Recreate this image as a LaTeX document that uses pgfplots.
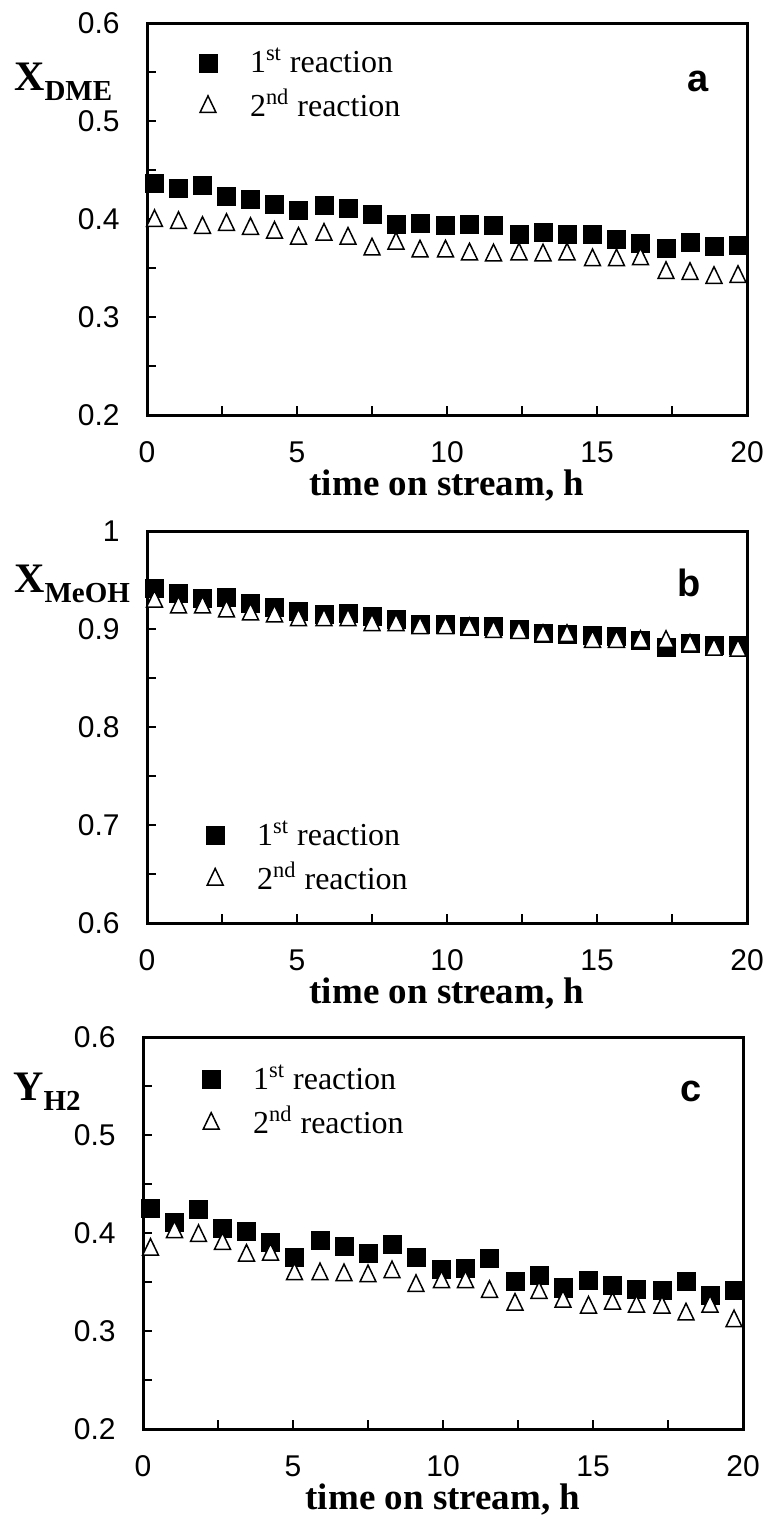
\documentclass[border=0pt]{standalone}
\usepackage{pgfplots}
\usepackage{pgfplotstable}
\pgfplotsset{compat=1.18}
\usepackage{fontspec}
\setmainfont{Liberation Sans}
\newfontfamily\tnr{Liberation Serif}

\pgfplotstableread{
t     sq     tri
0.25  0.436  0.398
1.05  0.431  0.396
1.85  0.434  0.391
2.65  0.423  0.394
3.45  0.420  0.390
4.25  0.415  0.386
5.05  0.409  0.380
5.90  0.414  0.384
6.70  0.411  0.380
7.50  0.405  0.369
8.30  0.394  0.375
9.10  0.396  0.367
9.95  0.393  0.367
10.75 0.395  0.364
11.55 0.393  0.363
12.40 0.384  0.364
13.20 0.386  0.363
14.00 0.384  0.364
14.85 0.384  0.358
15.65 0.379  0.358
16.45 0.375  0.359
17.30 0.370  0.345
18.10 0.376  0.344
18.90 0.372  0.340
19.70 0.373  0.341
}\dataA

\pgfplotstableread{
t     sq     tri
0.25  0.941  0.928
1.05  0.936  0.922
1.85  0.931  0.922
2.65  0.932  0.918
3.45  0.926  0.915
4.25  0.922  0.913
5.05  0.918  0.909
5.90  0.915  0.909
6.70  0.916  0.909
7.50  0.913  0.904
8.30  0.910  0.904
9.10  0.905  0.901
9.95  0.905  0.901
10.75 0.903  0.900
11.55 0.903  0.897
12.40 0.900  0.896
13.20 0.896  0.893
14.00 0.894  0.893
14.85 0.893  0.887
15.65 0.892  0.887
16.45 0.888  0.887
17.30 0.881  0.887
18.10 0.885  0.883
18.90 0.883  0.879
19.70 0.883  0.878
}\dataB

\pgfplotstableread{
t     sq     tri
0.25  0.425  0.383
1.05  0.411  0.401
1.85  0.424  0.397
2.65  0.405  0.389
3.45  0.402  0.377
4.25  0.390  0.378
5.05  0.375  0.358
5.90  0.392  0.358
6.70  0.386  0.357
7.50  0.379  0.356
8.30  0.388  0.360
9.10  0.375  0.346
9.95  0.363  0.350
10.75 0.364  0.350
11.55 0.374  0.340
12.40 0.351  0.327
13.20 0.357  0.339
14.00 0.344  0.330
14.85 0.352  0.324
15.65 0.347  0.328
16.45 0.342  0.325
17.30 0.341  0.324
18.10 0.351  0.317
18.90 0.336  0.325
19.70 0.341  0.310
}\dataC

\pgfplotsset{
  panel/.style={
    scale only axis, width=300pt, height=196pt,
    xmin=0, xmax=20,
    xtick={0,5,10,15,20}, minor xtick={2.5,7.5,12.5,17.5},
    tick align=inside, xtick pos=left, ytick pos=left,
    major tick length=4.5pt, minor tick length=4.5pt,
    axis line style={line width=1.5pt},
    major tick style={line width=0.9pt, black},
    minor tick style={line width=0.9pt, black},
    tick label style={font=\fontsize{15}{15}\selectfont, inner sep=0pt},
    /pgf/number format/assume math mode=true,
    xticklabel style={anchor=north, yshift=-13pt},
    yticklabel style={anchor=east, xshift=-13.5pt},
    xlabel={time on stream, h},
    xlabel style={at={(axis description cs:0.5,0)}, anchor=base, yshift=-40pt,
      inner sep=0pt, font=\tnr\bfseries\fontsize{18.5}{18.5}\selectfont},
    clip mode=individual,
    legend cell align=left,
    legend style={draw=none, fill=none, inner sep=0pt, row sep=10pt,
      font=\tnr\fontsize{16}{16}\selectfont,
      nodes={inner sep=0pt, text height=11pt, text depth=1pt}},
    legend image code/.code={\path[draw=none,fill=none] (0pt,-1pt) rectangle (30pt,1pt);
      \draw[mark repeat=2,mark phase=2,##1] plot coordinates {(0pt,0pt) (9pt,0pt) (30pt,0pt)};},
  },
  sq/.style={only marks, mark=square*, mark size=4.5pt, mark options={fill=black, draw=black}},
  tri/.style={only marks, mark=triangle*, mark size=4.6pt,
    mark options={fill=white, draw=black, line width=0.75pt, yscale=1.2}},
}
\tikzset{
  ylab/.style={anchor=base west, inner sep=0pt, font=\tnr\bfseries\fontsize{21}{21}\selectfont},
  plab/.style={anchor=base, inner sep=0pt, font=\bfseries\fontsize{19}{19}\selectfont},
}
\newcommand{\sub}[1]{\raisebox{-5pt}{\fontsize{14.5}{14.5}\selectfont #1}}

\begin{document}
\begin{tikzpicture}
\path[use as bounding box] (0,0) rectangle (382pt,-759.5pt);

% ---- panel a ----
\begin{axis}[panel, at={(73.5pt,-207.5pt)}, anchor=south west,
  ymin=0.2, ymax=0.6, ytick={0.2,0.3,0.4,0.5,0.6},
  minor ytick={0.25,0.35,0.45,0.55},
  legend style={at={(axis description cs:0.071,0.842)}, anchor=west}]
\addplot[sq] table[x=t,y=sq] {\dataA};
\addlegendentry{1\textsuperscript{st} reaction}
\addplot[tri] table[x=t,y=tri] {\dataA};
\addlegendentry{2\textsuperscript{nd} reaction}
\node[ylab] at (axis description cs:-0.222,0.827) {X\sub{DME}};
\node[plab] at (axis cs:18.37,0.5306) {a};
\end{axis}

% ---- panel b ----
\begin{axis}[panel, at={(73.5pt,-461.5pt)}, anchor=south west,
  ymin=0.6, ymax=1, ytick={0.6,0.7,0.8,0.9,1},
  yticklabels={0.6,0.7,0.8,0.9,1},
  minor ytick={0.65,0.75,0.85,0.95},
  legend style={at={(axis description cs:0.083,0.167)}, anchor=west}]
\addplot[sq] table[x=t,y=sq] {\dataB};
\addlegendentry{1\textsuperscript{st} reaction}
\addplot[tri] table[x=t,y=tri] {\dataB};
\addlegendentry{2\textsuperscript{nd} reaction}
\node[ylab] at (axis description cs:-0.222,0.844) {X\sub{MeOH}};
\node[plab] at (axis cs:18.07,0.9327) {b};
\end{axis}

% ---- panel c ----
\begin{axis}[panel, at={(71.5pt,-714.5pt)}, anchor=south west,
  ymin=0.2, ymax=0.6, ytick={0.2,0.3,0.4,0.5,0.6},
  minor ytick={0.25,0.35,0.45,0.55},
  legend style={at={(axis description cs:0.083,0.835)}, anchor=west}]
\addplot[sq] table[x=t,y=sq] {\dataC};
\addlegendentry{1\textsuperscript{st} reaction}
\addplot[tri] table[x=t,y=tri] {\dataC};
\addlegendentry{2\textsuperscript{nd} reaction}
\node[ylab] at (axis description cs:-0.217,0.839) {Y\sub{H2}};
\node[plab] at (axis cs:18.27,0.5337) {c};
\end{axis}
\end{tikzpicture}
\end{document}
